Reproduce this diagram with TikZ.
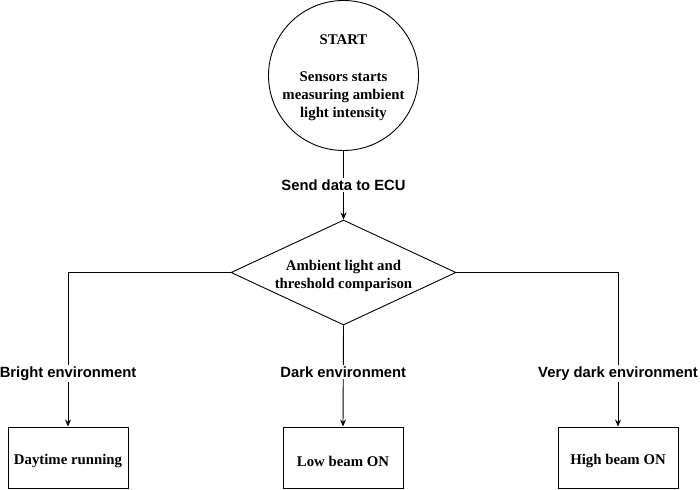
\documentclass[tikz,border=0pt]{standalone}
\usepackage{fontspec}
\setmainfont{Liberation Serif}
\setsansfont{Liberation Sans}
\usetikzlibrary{shapes.geometric,arrows.meta}
\begin{document}
\begin{tikzpicture}[x=1pt,y=-1pt,
  every node/.style={inner sep=0pt},
  nodetext/.style={font=\fontsize{14.8}{18}\selectfont\bfseries, align=center},
  procbox/.style={draw, line width=1pt, minimum width=120pt, minimum height=61pt},
  edgelabel/.style={fill=white, font=\sffamily\fontsize{14.8}{17}\selectfont\bfseries, inner sep=1.5pt},
  conn/.style={draw, line width=0.9pt, -{Stealth[length=7pt,width=6pt]}}
]
\useasboundingbox (0,0) rectangle (700,489);
\node[circle, draw, line width=0.9pt, minimum size=150pt] (start) at (343.5,75.5) {};
\node[nodetext] (starttext) at (343.5,77.5) {START\\[19pt]Sensors starts\\measuring ambient\\light intensity};
\node[diamond, draw, line width=0.9pt, minimum width=225pt, minimum height=105pt, aspect=2.14] (cmp) at (343.5,272.5) {};
\node[nodetext] (cmptext) at (343.5,275.5) {Ambient light and\\threshold comparison};
\node[procbox] (day) at (68,457.5) {};
\node[nodetext] (daytext) at (68,461) {Daytime running};
\node[procbox] (low) at (343,457.5) {};
\node[nodetext] (lowtext) at (343,461) {Low beam ON};
\node[procbox] (high) at (618,457.5) {};
\node[nodetext] (hightext) at (618,461) {High beam ON};

\draw[conn] (start) -- node[edgelabel, pos=0.5] {Send data to ECU} (cmp);
\draw[conn] (cmp.west) -| node[edgelabel, pos=0.828] {Bright environment} (day.north);
\draw[conn] (cmp.south) -- node[edgelabel, pos=0.46] {Dark environment} (low.north);
\draw[conn] (cmp.east) -| node[edgelabel, pos=0.828] {Very dark environment} (high.north);
\end{tikzpicture}
\end{document}
